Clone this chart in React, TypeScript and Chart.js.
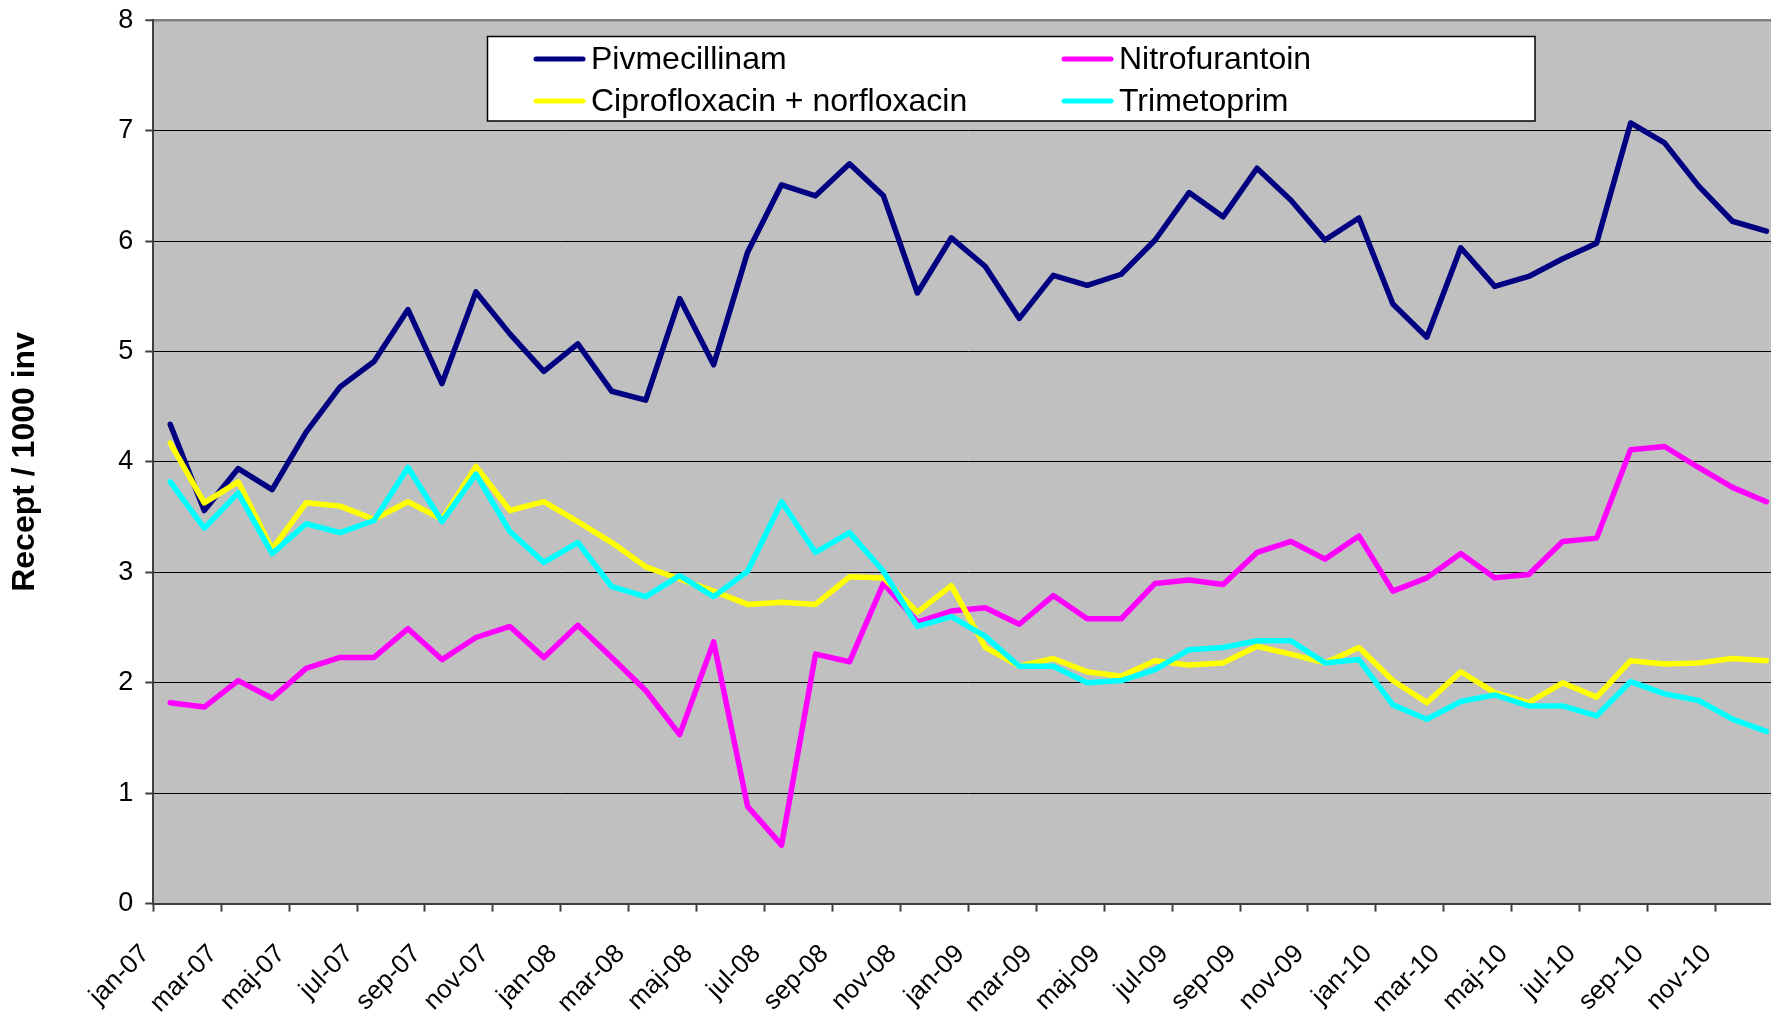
import React, { useEffect, useRef } from "react";
import { Chart, registerables } from "chart.js";

Chart.register(...registerables);

const categories = [
  "jan-07","feb-07","mar-07","apr-07","maj-07","jun-07","jul-07","aug-07","sep-07","okt-07","nov-07","dec-07",
  "jan-08","feb-08","mar-08","apr-08","maj-08","jun-08","jul-08","aug-08","sep-08","okt-08","nov-08","dec-08",
  "jan-09","feb-09","mar-09","apr-09","maj-09","jun-09","jul-09","aug-09","sep-09","okt-09","nov-09","dec-09",
  "jan-10","feb-10","mar-10","apr-10","maj-10","jun-10","jul-10","aug-10","sep-10","okt-10","nov-10","dec-10",
];

const pivmecillinam = [
  4.34,3.56,3.94,3.75,4.27,4.68,4.91,5.38,4.71,5.54,5.16,4.82,
  5.07,4.64,4.56,5.48,4.88,5.90,6.51,6.41,6.70,6.41,5.53,6.03,
  5.77,5.30,5.69,5.60,5.70,6.01,6.44,6.22,6.66,6.37,6.01,6.21,
  5.43,5.13,5.94,5.59,5.68,5.84,5.98,7.07,6.89,6.50,6.18,6.09,
];

const nitrofurantoin = [
  1.82,1.78,2.02,1.86,2.13,2.23,2.23,2.49,2.21,2.41,2.51,2.23,
  2.52,2.23,1.93,1.53,2.37,0.88,0.53,2.26,2.19,2.90,2.55,2.65,
  2.68,2.53,2.79,2.58,2.58,2.90,2.93,2.89,3.18,3.28,3.12,3.33,
  2.83,2.95,3.17,2.95,2.98,3.28,3.31,4.11,4.14,3.95,3.77,3.64,
];

const ciprofloxacin = [
  4.17,3.63,3.82,3.21,3.63,3.60,3.48,3.64,3.48,3.96,3.56,3.64,
  3.46,3.27,3.05,2.94,2.83,2.71,2.73,2.71,2.96,2.95,2.64,2.88,
  2.32,2.15,2.22,2.10,2.06,2.20,2.16,2.18,2.33,2.26,2.18,2.32,
  2.02,1.82,2.10,1.91,1.82,2.00,1.87,2.20,2.17,2.18,2.22,2.20,
];

const trimetoprim = [
  3.82,3.40,3.72,3.17,3.44,3.36,3.47,3.95,3.46,3.89,3.37,3.09,
  3.27,2.87,2.78,2.97,2.78,3.01,3.64,3.18,3.36,3.01,2.51,2.60,
  2.42,2.15,2.15,2.00,2.02,2.12,2.30,2.32,2.38,2.38,2.18,2.21,
  1.80,1.67,1.83,1.89,1.79,1.79,1.70,2.01,1.90,1.84,1.67,1.56,
];

const seriesNames = ["Pivmecillinam", "Nitrofurantoin", "Ciprofloxacin + norfloxacin", "Trimetoprim"];
const seriesColors = ["#000080", "#FF00FF", "#FFFF00", "#00FFFF"];
const yTitle = "Recept / 1000 inv";
const yMin = 0;
const yMax = 8;
const yStep = 1;

const FONT = "'Liberation Sans', Arial, sans-serif";

const plotBg = {
  id: "plotBg",
  beforeDraw(chart: any) {
    const { ctx, chartArea } = chart;
    ctx.save();
    ctx.fillStyle = "#C0C0C0";
    ctx.fillRect(chartArea.left, chartArea.top, chartArea.right - chartArea.left, chartArea.bottom - chartArea.top);
    ctx.restore();
  },
};

const boxLegend = {
  id: "boxLegend",
  afterDraw(chart: any) {
    const { ctx } = chart;
    ctx.save();
    const bx = 487.5, by = 36.5, bw = 1047.5, bh = 84.5;
    ctx.fillStyle = "#FFFFFF";
    ctx.fillRect(bx, by, bw, bh);
    ctx.strokeStyle = "#000000";
    ctx.lineWidth = 1.5;
    ctx.strokeRect(bx, by, bw, bh);
    const cols = [534, 1062];
    const rows = [59, 101];
    const order = [0, 1, 2, 3];
    order.forEach((si, k) => {
      const cx = cols[k % 2];
      const cy = rows[Math.floor(k / 2)];
      ctx.strokeStyle = seriesColors[si];
      ctx.lineWidth = 5;
      ctx.lineCap = "round";
      ctx.beginPath();
      ctx.moveTo(cx + 2, cy);
      ctx.lineTo(cx + 49, cy);
      ctx.stroke();
      ctx.fillStyle = "#000000";
      ctx.font = `32px ${FONT}`;
      ctx.textAlign = "left";
      ctx.textBaseline = "middle";
      ctx.fillText(seriesNames[si], cx + 57, cy + 1.5);
    });
    ctx.restore();
  },
};

export default function App() {
  const ref = useRef<HTMLCanvasElement | null>(null);

  useEffect(() => {
    if (!ref.current) return;
    const seriesData = [pivmecillinam, nitrofurantoin, ciprofloxacin, trimetoprim];
    const chart = new Chart(ref.current, {
      type: "line",
      data: {
        labels: categories,
        datasets: seriesData.map((d, i) => ({
          label: seriesNames[i],
          data: d,
          borderColor: seriesColors[i],
          backgroundColor: seriesColors[i],
          borderWidth: 5.5,
          pointRadius: 0,
          pointHoverRadius: 0,
          tension: 0,
          fill: false,
          borderJoinStyle: "round" as const,
          borderCapStyle: "round" as const,
          order: 3 - i,
        })),
      },
      options: {
        responsive: false,
        animation: false,
        devicePixelRatio: 1,
        layout: { padding: { top: 20.3, right: 16.6, left: 0, bottom: 0 } },
        plugins: {
          legend: { display: false },
          tooltip: { enabled: false },
          title: { display: false },
        },
        scales: {
          x: {
            type: "category",
            offset: true,
            grid: {
              display: true,
              offset: true,
              drawOnChartArea: false,
              drawTicks: true,
              tickLength: 8,
              tickWidth: 2,
              tickColor: (c: any) => (c.index % 2 === 0 ? "#404040" : "rgba(0,0,0,0)"),
            },
            border: { display: true, color: "#404040", width: 2 },
            ticks: {
              autoSkip: false,
              maxRotation: 45,
              minRotation: 45,
              padding: 27,
              labelOffset: -25,
              color: "#000000",
              font: { family: FONT, size: 26 },
              callback: (_v: any, i: number) => (i % 2 === 0 ? categories[i] : ""),
            },
            afterFit: (s: any) => {
              s.height = 111.4;
              s.paddingLeft = 0;
              s.paddingRight = 0;
            },
          },
          y: {
            min: yMin,
            max: yMax,
            grid: {
              color: (c: any) => (c.tick && c.tick.value === yMax ? "#808080" : "#000000"),
              lineWidth: (c: any) => (c.tick && c.tick.value === yMax ? 2.5 : 1),
              drawTicks: true,
              tickLength: 8,
              tickColor: "#404040",
              tickWidth: 2,
            },
            border: { display: true, color: "#404040", width: 2 },
            ticks: {
              stepSize: yStep,
              padding: 12,
              color: "#000000",
              font: { family: FONT, size: 27 },
            },
            title: {
              display: true,
              text: yTitle,
              color: "#000000",
              font: { family: FONT, size: 32, weight: "bold" },
              padding: { top: 6, bottom: 0 },
            },
            afterFit: (s: any) => {
              s.width = 153.3;
              s.paddingTop = 0;
              s.paddingBottom = 0;
            },
          },
        },
      },
      plugins: [plotBg, boxLegend],
    });
    return () => chart.destroy();
  }, []);

  return (
    <div
      style={{
        position: "absolute",
        left: 0,
        top: 0,
        width: 1771,
        height: 1015,
        overflow: "hidden",
        background: "#FFFFFF",
      }}
    >
      <canvas ref={ref} width={1800} height={1015} style={{ display: "block" }} />
    </div>
  );
}
